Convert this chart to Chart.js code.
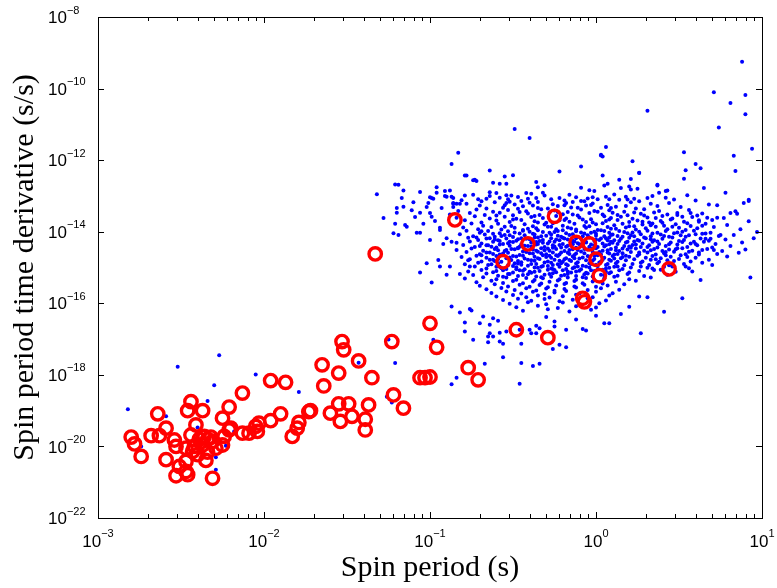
<!DOCTYPE html>
<html lang="en">
<head>
<meta charset="UTF-8">
<title>Spin period vs spin period derivative</title>
<script src="https://cdn.jsdelivr.net/npm/chart.js"></script>
<style>
  html, body { margin: 0; padding: 0; background: #fff; }
  canvas { display: block; }
</style>
</head>
<body>
<canvas id="ppdot" width="777" height="588"></canvas>
<script>
// tick labels, as powers of ten
const xExp = [-3, -2, -1, 0, 1];
const yExp = [-22, -20, -18, -16, -14, -12, -10, -8];

// red circles: [log10 P (s), log10 Pdot (s/s)]
const redLog = [
  [-2.80,-19.74],[-2.78,-19.93],[-2.74,-20.28],[-2.68,-19.70],[-2.63,-19.70],[-2.64,-19.09],
  [-2.59,-19.49],[-2.59,-20.37],[-2.54,-19.82],[-2.53,-20.00],[-2.53,-20.82],[-2.51,-20.56],
  [-2.47,-20.70],[-2.46,-20.79],[-2.47,-20.42],[-2.47,-20.05],[-2.44,-18.75],[-2.46,-19.00],
  [-2.37,-19.00],[-2.41,-19.40],[-2.44,-19.68],[-2.42,-20.00],[-2.43,-20.14],[-2.40,-20.23],
  [-2.36,-19.72],[-2.37,-19.96],[-2.35,-20.39],[-2.31,-20.89],[-2.31,-19.86],[-2.29,-20.05],
  [-2.25,-19.96],[-2.24,-19.72],[-2.21,-19.54],[-2.21,-18.90],[-2.25,-19.21],[-2.13,-19.63],
  [-2.09,-19.63],[-2.05,-19.44],[-2.04,-19.58],[-2.13,-18.51],[-2.03,-19.35],[-1.96,-18.16],
  [-1.87,-18.21],[-1.96,-19.28],[-1.90,-19.09],[-1.79,-19.33],[-1.80,-19.49],[-1.83,-19.72],
  [-1.72,-19.00],[-1.73,-19.03],[-1.65,-17.72],[-1.64,-18.31],[-1.55,-17.95],[-1.53,-17.07],
  [-1.52,-17.30],[-1.43,-17.61],[-1.35,-18.08],[-1.23,-17.07],[-1.22,-18.56],[-1.16,-18.93],
  [-1.37,-18.84],[-1.55,-18.81],[-1.49,-18.81],[-1.60,-19.07],[-1.54,-19.30],[-1.47,-19.16],
  [-1.39,-19.24],[-1.39,-19.54],[-1.06,-18.08],[-1.03,-18.08],[-1.00,-18.06],[-1.00,-16.56],
  [-0.96,-17.23],[-0.77,-17.80],[-0.71,-18.14],[-0.48,-16.74],[-0.29,-16.96],[-0.85,-13.67],
  [-0.25,-13.57],[-0.41,-14.34],[-0.56,-14.84],[-0.12,-14.30],[-0.04,-14.34],[0.00,-14.77],
  [0.02,-15.23],[0.44,-15.04],[-0.08,-15.86],[-0.07,-15.96],[-1.33,-14.62],[-2.20,-19.49],
  [-2.34,-19.80],[-2.39,-19.80],[-2.32,-19.74],[-2.34,-20.16]
];

// blue dots in the millisecond corner
const blueMspLog = [
  [-2.82,-18.96],[-2.52,-17.77],[-2.27,-17.45],[-2.30,-18.29],[-2.34,-18.73],[-2.59,-19.16],
  [-2.40,-19.47],[-2.74,-20.00],[-2.29,-19.77],[-2.23,-19.98],[-2.29,-20.30],[-2.29,-20.65],
  [-2.05,-17.99],[-1.79,-18.48],[-1.43,-17.66],[-1.21,-17.67],[-1.25,-17.01],[-1.26,-18.61],
  [-1.23,-18.77],[-2.18,-19.58]
];

// blue dots above the main cloud (high Pdot)
const blueHighLog = [
  [0.88,-9.25],[0.71,-10.10],[0.90,-10.18],[0.81,-10.40],[0.90,-10.72],[0.31,-10.62],[0.74,-11.09],
  [0.94,-11.68],[0.06,-11.63],[0.53,-11.78],[0.03,-11.87],[0.04,-11.90],[0.22,-12.03],[0.83,-11.88],
  [0.60,-12.11],[0.63,-12.23],[0.54,-12.28],[0.84,-12.30],[0.26,-12.36],[0.04,-12.43],[0.14,-12.55],
  [0.21,-12.53],[0.53,-12.52],[0.05,-12.71],[0.07,-12.66],[0.20,-12.74],[0.15,-12.78],[0.25,-12.80],
  [0.21,-12.82],[0.37,-12.71],[0.38,-12.91],[0.42,-12.86],[0.65,-12.78],[0.78,-12.91],[0.06,-13.02],
  [0.08,-13.09],[0.31,-13.06],[0.34,-13.00],[0.23,-13.08],[0.92,-13.11],[-0.49,-11.13],[-0.40,-11.38],
  [-0.83,-11.79],[-0.87,-12.11],[0.03,-11.85],[-0.09,-12.18],[-0.22,-12.32],[-0.64,-12.29],[-0.79,-12.43],
  [-0.50,-12.42],[-0.55,-12.46],[-0.74,-12.56],[-0.72,-12.58],[-0.62,-12.63],[-0.58,-12.66],[-0.54,-12.66],
  [-0.36,-12.61],[-0.31,-12.70],[-0.35,-12.76],[-0.96,-12.76],[-0.96,-12.91],[-0.91,-12.86],[-0.88,-12.85],
  [-0.09,-12.77],[-0.04,-12.84],[-0.01,-12.86],[-1.00,-13.04],[-0.98,-13.08],[-0.91,-13.00],[-0.86,-13.06],
  [-0.79,-12.99],[-0.64,-12.90],[-0.60,-12.92],[-0.64,-13.00],[-0.54,-12.98],[-0.51,-12.99],[-0.42,-12.92],
  [-0.39,-12.94],[-0.32,-12.91],[-0.36,-13.06],[-0.53,-13.09],[-0.54,-13.20],[-0.71,-13.09],[-0.16,-12.97],
  [-0.18,-13.20],[-0.07,-13.15],[-0.02,-13.04],[-0.86,-13.22],[-0.84,-13.22],[-0.82,-13.22],[-0.78,-12.43],
  [-0.73,-12.55],[0.89,-13.20],[0.92,-13.14],[0.81,-13.48],[0.85,-13.50],[0.37,-12.69],[0.26,-12.35]
];

// blue dots on the short-period side of the cloud
const blueLeftLog = [
  [-1.21,-12.68],[-1.19,-12.69],[-1.16,-12.85],[-1.06,-12.89],[-1.17,-13.06],[-1.20,-13.34],[-1.16,-13.30],
  [-1.20,-13.47],[-1.10,-13.18],[-1.11,-13.40],[-1.06,-13.47],[-1.09,-13.59],[-1.02,-13.31],[-1.01,-13.20],
  [-0.99,-13.06],[-1.21,-13.78],[-1.15,-13.81],[-1.14,-13.86],[-1.04,-13.78],[-1.08,-14.03],[-1.06,-14.03],
  [-1.22,-14.04],[-1.19,-14.09],[-1.00,-13.48],[-0.99,-13.58],[-0.97,-13.70],[-0.93,-13.34],[-0.94,-13.89],
  [-0.94,-13.95],[-0.90,-13.02],[-0.87,-13.02],[-0.86,-13.20],[-1.00,-14.23],[-0.92,-14.34],[-0.90,-14.18],
  [-0.87,-14.28],[-1.06,-15.14],[-0.99,-15.42],[-1.02,-14.88],[-0.95,-14.79],[-0.94,-14.97],[-0.88,-14.97],
  [-0.90,-15.20],[-0.82,-15.18],[-0.84,-14.51],[-0.81,-14.71],[-0.77,-14.80],[-0.76,-14.97],[-1.28,-13.62],
  [-1.32,-12.95]
];

// blue dots below the cloud and on its long-period side
const blueTailLog = [
  [-0.87,-16.09],[-0.82,-16.26],[-0.76,-16.16],[-0.79,-16.54],[-0.79,-16.79],[-0.74,-17.02],[-0.67,-17.69],
  [-0.56,-17.51],[-0.46,-18.25],[-0.45,-17.67],[-0.38,-17.75],[-0.34,-17.69],[-0.65,-16.93],[-0.62,-16.93],
  [-0.58,-17.07],[-0.56,-17.13],[-0.65,-17.09],[-0.45,-17.13],[-0.39,-16.84],[-0.36,-16.84],[-0.26,-17.28],
  [-0.22,-17.16],[-0.18,-17.23],[-0.08,-16.72],[-0.06,-16.76],[0.27,-16.84],[0.08,-16.56],[0.05,-16.56],
  [0.41,-16.24],[0.31,-15.83],[0.26,-15.81],[-0.87,-18.26],[-0.84,-18.08],[-0.64,-16.60],[-0.62,-16.42],
  [-0.59,-16.49],[-0.68,-16.37],[-0.75,-16.20],[-0.70,-16.56],[-0.64,-16.84],[-0.58,-16.82],[-0.54,-16.79],
  [-0.46,-16.74],[-0.40,-16.74],[-0.36,-16.63],[-0.34,-16.70],[-0.25,-16.65],[-0.18,-16.74],[-0.25,-16.51],
  [-0.98,-17.02],[-0.30,-16.38],[-0.12,-16.45],[0.00,-16.35],[0.15,-16.30],[0.20,-16.10],
  [0.93,-15.28],[0.63,-15.35],[0.52,-15.86],[0.71,-14.51],[0.75,-14.09],[0.66,-14.20],[0.69,-14.20],
  [0.64,-14.06],[0.54,-14.97],[0.73,-13.61],[0.67,-13.61],[0.70,-13.67],[0.62,-13.72],[0.59,-14.28],
  [0.49,-14.46],[0.54,-14.14],[0.57,-13.48],[0.49,-13.48],[0.43,-12.85]
];

// blue dots of the dense core
const blueCoreLog = [
  [-0.74,-12.97],[-0.47,-13.03],[-0.31,-12.99],[-0.12,-13.04],[0.11,-12.96],[0.18,-13.02],[0.42,-13.05],[0.55,-12.98],
  [-0.81,-13.12],[-0.66,-13.08],[-0.45,-13.14],[-0.27,-13.09],[-0.19,-13.13],[-0.05,-13.07],[0.14,-13.11],[0.26,-13.15],[0.47,-13.10],[0.60,-13.13],
  [-0.78,-13.22],[-0.61,-13.18],[-0.49,-13.24],[-0.40,-13.19],[-0.26,-13.23],[-0.14,-13.17],[-0.02,-13.21],[0.07,-13.25],[0.21,-13.18],[0.33,-13.22],[0.44,-13.20],[0.68,-13.24],
  [-0.86,-13.31],[-0.70,-13.27],[-0.56,-13.33],[-0.44,-13.29],[-0.35,-13.34],[-0.23,-13.28],[-0.15,-13.32],[-0.06,-13.27],[0.03,-13.33],[0.12,-13.30],[0.24,-13.35],[0.37,-13.28],[0.51,-13.31],[0.73,-13.26],
  [-0.83,-13.42],[-0.72,-13.38],[-0.62,-13.44],[-0.53,-13.39],[-0.42,-13.43],[-0.33,-13.37],[-0.25,-13.41],[-0.17,-13.45],[-0.09,-13.38],[-0.01,-13.42],[0.08,-13.40],[0.17,-13.44],[0.29,-13.37],[0.38,-13.42],[0.56,-13.39],[0.84,-13.43],
  [-0.88,-13.52],[-0.76,-13.48],[-0.67,-13.53],[-0.58,-13.47],[-0.50,-13.54],[-0.41,-13.49],[-0.34,-13.53],[-0.28,-13.46],[-0.20,-13.51],[-0.11,-13.55],[-0.04,-13.48],[0.04,-13.52],[0.10,-13.47],[0.19,-13.54],[0.27,-13.50],[0.35,-13.46],[0.49,-13.53],[0.64,-13.49],
  [-0.84,-13.61],[-0.73,-13.57],[-0.64,-13.63],[-0.55,-13.58],[-0.48,-13.64],[-0.39,-13.59],[-0.32,-13.62],[-0.24,-13.56],[-0.18,-13.63],[-0.10,-13.60],[-0.03,-13.65],[0.05,-13.57],[0.09,-13.62],[0.15,-13.58],[0.22,-13.64],[0.31,-13.60],[0.40,-13.56],[0.46,-13.63],[0.58,-13.59],[0.77,-13.62],
  [-0.79,-13.68],[-0.69,-13.74],[-0.60,-13.69],[-0.52,-13.73],[-0.45,-13.67],[-0.37,-13.71],[-0.30,-13.75],[-0.22,-13.68],[-0.16,-13.72],[-0.08,-13.66],[-0.02,-13.74],[0.06,-13.70],[0.13,-13.67],[0.20,-13.73],[0.25,-13.69],[0.32,-13.74],[0.39,-13.70],[0.45,-13.66],[0.53,-13.72],[0.62,-13.68],[0.92,-13.71],
  [-0.75,-13.77],[-0.68,-13.83],[-0.59,-13.78],[-0.51,-13.84],[-0.43,-13.79],[-0.38,-13.85],[-0.31,-13.80],[-0.26,-13.76],[-0.20,-13.83],[-0.13,-13.78],[-0.07,-13.84],[0.00,-13.79],[0.04,-13.76],[0.11,-13.82],[0.16,-13.78],[0.23,-13.85],[0.28,-13.80],[0.34,-13.77],[0.41,-13.83],[0.48,-13.79],[0.57,-13.84],[0.66,-13.78],[0.79,-13.81],
  [-0.80,-13.88],[-0.71,-13.93],[-0.63,-13.87],[-0.57,-13.94],[-0.49,-13.89],[-0.44,-13.95],[-0.36,-13.90],[-0.29,-13.86],[-0.24,-13.93],[-0.17,-13.88],[-0.12,-13.94],[-0.06,-13.89],[0.01,-13.95],[0.07,-13.87],[0.12,-13.92],[0.18,-13.88],[0.24,-13.94],[0.30,-13.90],[0.36,-13.86],[0.43,-13.93],[0.50,-13.89],[0.54,-13.95],[0.61,-13.90],[0.71,-13.87],[0.87,-13.93],
  [-0.78,-13.97],[-0.70,-14.03],[-0.65,-13.98],[-0.58,-14.04],[-0.53,-13.99],[-0.46,-14.05],[-0.40,-14.00],[-0.35,-13.96],[-0.28,-14.03],[-0.23,-13.98],[-0.18,-14.04],[-0.12,-13.99],[-0.07,-14.05],[-0.01,-14.00],[0.03,-13.96],[0.08,-14.03],[0.14,-13.98],[0.19,-14.04],[0.26,-14.00],[0.31,-13.97],[0.37,-14.03],[0.42,-13.98],[0.47,-14.04],[0.52,-14.00],[0.59,-13.97],[0.69,-14.03],[0.97,-14.01],
  [-0.82,-14.07],[-0.74,-14.13],[-0.67,-14.08],[-0.61,-14.14],[-0.55,-14.09],[-0.50,-14.15],[-0.43,-14.10],[-0.38,-14.06],[-0.33,-14.13],[-0.27,-14.08],[-0.21,-14.14],[-0.16,-14.09],[-0.11,-14.15],[-0.05,-14.10],[0.00,-14.06],[0.05,-14.13],[0.10,-14.08],[0.16,-14.14],[0.21,-14.10],[0.27,-14.07],[0.33,-14.13],[0.39,-14.08],[0.44,-14.14],[0.51,-14.10],[0.60,-14.07],[0.74,-14.12],[0.83,-14.09],
  [-0.77,-14.17],[-0.71,-14.23],[-0.64,-14.18],[-0.59,-14.24],[-0.54,-14.19],[-0.48,-14.25],[-0.42,-14.20],[-0.37,-14.16],[-0.32,-14.23],[-0.27,-14.18],[-0.22,-14.24],[-0.19,-14.19],[-0.14,-14.25],[-0.09,-14.20],[-0.04,-14.16],[0.02,-14.23],[0.06,-14.18],[0.11,-14.24],[0.15,-14.20],[0.20,-14.17],[0.25,-14.23],[0.30,-14.18],[0.35,-14.24],[0.40,-14.20],[0.46,-14.16],[0.53,-14.23],[0.63,-14.19],[0.78,-14.22],[0.95,-14.18],
  [-0.84,-14.31],[-0.76,-14.27],[-0.69,-14.33],[-0.62,-14.28],[-0.56,-14.34],[-0.50,-14.29],[-0.45,-14.35],[-0.39,-14.30],[-0.34,-14.26],[-0.29,-14.33],[-0.25,-14.28],[-0.20,-14.34],[-0.15,-14.29],[-0.10,-14.35],[-0.06,-14.30],[-0.01,-14.26],[0.04,-14.33],[0.09,-14.28],[0.13,-14.34],[0.18,-14.30],[0.23,-14.27],[0.28,-14.33],[0.34,-14.28],[0.38,-14.34],[0.45,-14.30],[0.50,-14.26],[0.57,-14.33],[0.65,-14.28],[0.72,-14.34],[0.88,-14.30],
  [-0.80,-14.37],[-0.73,-14.43],[-0.66,-14.38],[-0.60,-14.44],[-0.52,-14.39],[-0.47,-14.45],[-0.41,-14.40],[-0.36,-14.36],[-0.31,-14.43],[-0.26,-14.38],[-0.21,-14.44],[-0.17,-14.39],[-0.12,-14.45],[-0.08,-14.40],[-0.03,-14.36],[0.01,-14.43],[0.06,-14.38],[0.12,-14.44],[0.17,-14.40],[0.22,-14.37],[0.27,-14.43],[0.32,-14.38],[0.37,-14.44],[0.42,-14.40],[0.49,-14.36],[0.55,-14.43],[0.61,-14.38],[0.70,-14.44],[0.81,-14.40],
  [-0.75,-14.47],[-0.68,-14.53],[-0.61,-14.48],[-0.55,-14.54],[-0.49,-14.49],[-0.44,-14.55],[-0.38,-14.50],[-0.33,-14.46],[-0.28,-14.53],[-0.24,-14.48],[-0.19,-14.54],[-0.14,-14.49],[-0.09,-14.55],[-0.05,-14.50],[0.00,-14.46],[0.04,-14.53],[0.09,-14.48],[0.14,-14.54],[0.19,-14.50],[0.24,-14.47],[0.29,-14.53],[0.35,-14.48],[0.40,-14.54],[0.44,-14.50],[0.52,-14.46],[0.58,-14.53],[0.67,-14.48],[0.76,-14.54],[0.90,-14.50],
  [-0.78,-14.57],[-0.70,-14.63],[-0.64,-14.58],[-0.58,-14.64],[-0.53,-14.59],[-0.46,-14.65],[-0.40,-14.60],[-0.35,-14.56],[-0.30,-14.63],[-0.26,-14.58],[-0.22,-14.64],[-0.17,-14.59],[-0.13,-14.65],[-0.07,-14.60],[-0.02,-14.56],[0.03,-14.63],[0.07,-14.58],[0.11,-14.64],[0.16,-14.60],[0.21,-14.57],[0.26,-14.63],[0.31,-14.58],[0.36,-14.64],[0.41,-14.60],[0.47,-14.56],[0.54,-14.63],[0.62,-14.58],[0.73,-14.62],[0.86,-14.59],
  [-0.72,-14.67],[-0.66,-14.73],[-0.60,-14.68],[-0.54,-14.74],[-0.48,-14.69],[-0.43,-14.75],[-0.37,-14.70],[-0.32,-14.66],[-0.27,-14.73],[-0.23,-14.68],[-0.18,-14.74],[-0.14,-14.69],[-0.10,-14.75],[-0.04,-14.70],[0.01,-14.66],[0.05,-14.73],[0.10,-14.68],[0.15,-14.74],[0.20,-14.70],[0.25,-14.67],[0.30,-14.73],[0.34,-14.68],[0.39,-14.74],[0.45,-14.70],[0.51,-14.66],[0.60,-14.73],[0.79,-14.69],
  [-0.76,-14.77],[-0.69,-14.83],[-0.62,-14.78],[-0.57,-14.84],[-0.51,-14.79],[-0.45,-14.85],[-0.39,-14.80],[-0.34,-14.76],[-0.29,-14.83],[-0.25,-14.78],[-0.20,-14.84],[-0.16,-14.79],[-0.11,-14.85],[-0.06,-14.80],[-0.01,-14.76],[0.03,-14.83],[0.08,-14.78],[0.13,-14.84],[0.18,-14.80],[0.23,-14.77],[0.28,-14.83],[0.33,-14.78],[0.38,-14.84],[0.43,-14.80],[0.50,-14.76],[0.57,-14.83],[0.68,-14.78],
  [-0.79,-14.91],[-0.71,-14.87],[-0.65,-14.93],[-0.59,-14.88],[-0.53,-14.94],[-0.47,-14.89],[-0.41,-14.95],[-0.36,-14.90],[-0.31,-14.86],[-0.26,-14.93],[-0.21,-14.88],[-0.17,-14.94],[-0.12,-14.89],[-0.08,-14.95],[-0.03,-14.90],[0.02,-14.86],[0.06,-14.93],[0.12,-14.88],[0.17,-14.94],[0.22,-14.90],[0.27,-14.87],[0.32,-14.93],[0.37,-14.88],[0.44,-14.94],[0.53,-14.90],[0.64,-14.87],
  [-0.73,-14.97],[-0.66,-15.03],[-0.60,-14.98],[-0.54,-15.04],[-0.48,-14.99],[-0.43,-15.05],[-0.37,-15.00],[-0.32,-14.96],[-0.27,-15.03],[-0.22,-14.98],[-0.18,-15.04],[-0.13,-14.99],[-0.09,-15.05],[-0.04,-15.00],[0.01,-14.96],[0.06,-15.03],[0.11,-14.98],[0.16,-15.04],[0.21,-15.00],[0.27,-14.97],[0.34,-15.03],[0.41,-14.98],[0.56,-15.02],
  [-0.77,-15.11],[-0.69,-15.07],[-0.62,-15.13],[-0.56,-15.08],[-0.50,-15.14],[-0.44,-15.09],[-0.39,-15.15],[-0.34,-15.10],[-0.29,-15.06],[-0.24,-15.13],[-0.20,-15.08],[-0.15,-15.14],[-0.10,-15.09],[-0.06,-15.15],[-0.01,-15.10],[0.04,-15.06],[0.09,-15.13],[0.14,-15.08],[0.20,-15.14],[0.26,-15.10],[0.35,-15.07],[0.48,-15.12],
  [-0.74,-15.21],[-0.66,-15.17],[-0.59,-15.23],[-0.53,-15.18],[-0.47,-15.24],[-0.41,-15.19],[-0.36,-15.25],[-0.31,-15.20],[-0.26,-15.16],[-0.21,-15.23],[-0.17,-15.18],[-0.12,-15.24],[-0.07,-15.19],[-0.02,-15.25],[0.03,-15.20],[0.08,-15.16],[0.13,-15.23],[0.19,-15.18],[0.29,-15.24],[0.43,-15.20],
  [-0.79,-15.31],[-0.68,-15.27],[-0.60,-15.33],[-0.54,-15.28],[-0.48,-15.34],[-0.42,-15.29],[-0.37,-15.35],[-0.32,-15.30],[-0.27,-15.26],[-0.22,-15.33],[-0.17,-15.28],[-0.12,-15.34],[-0.06,-15.29],[-0.01,-15.35],[0.05,-15.30],[0.11,-15.26],[0.20,-15.33],[0.33,-15.28],
  [-0.72,-15.41],[-0.63,-15.37],[-0.56,-15.43],[-0.50,-15.38],[-0.44,-15.44],[-0.38,-15.39],[-0.33,-15.45],[-0.28,-15.40],[-0.23,-15.36],[-0.18,-15.43],[-0.13,-15.38],[-0.08,-15.44],[-0.02,-15.39],[0.04,-15.45],[0.12,-15.40],[0.24,-15.37],
  [-0.70,-15.51],[-0.61,-15.47],[-0.53,-15.53],[-0.46,-15.48],[-0.40,-15.54],[-0.34,-15.49],[-0.29,-15.55],[-0.24,-15.50],[-0.19,-15.46],[-0.13,-15.53],[-0.07,-15.48],[0.00,-15.54],[0.07,-15.50],[0.17,-15.47],
  [-0.66,-15.61],[-0.57,-15.57],[-0.49,-15.63],[-0.42,-15.58],[-0.36,-15.64],[-0.30,-15.59],[-0.25,-15.65],[-0.19,-15.60],[-0.12,-15.56],[-0.05,-15.63],[0.03,-15.58],[0.14,-15.62],
  [-0.63,-15.71],[-0.54,-15.67],[-0.45,-15.73],[-0.38,-15.68],[-0.31,-15.74],[-0.25,-15.70],[-0.18,-15.66],[-0.10,-15.73],[0.00,-15.68],[0.10,-15.72],
  [-0.60,-15.81],[-0.50,-15.77],[-0.42,-15.83],[-0.35,-15.78],[-0.28,-15.84],[-0.20,-15.80],[-0.12,-15.76],[-0.02,-15.83],[0.08,-15.78],
  [-0.56,-15.91],[-0.47,-15.87],[-0.39,-15.93],[-0.31,-15.88],[-0.22,-15.94],[-0.14,-15.90],[-0.05,-15.86],[0.06,-15.92],
  [-0.52,-16.01],[-0.41,-15.97],[-0.30,-16.03],[-0.20,-15.98],[-0.09,-16.04],[0.02,-16.00],
  [-0.48,-16.11],[-0.35,-16.07],[-0.23,-16.13],[-0.12,-16.08],[0.00,-16.12],
  [-0.44,-16.21],[-0.29,-16.17],[-0.16,-16.23],[-0.03,-16.18]
];

// extra dots filling the centre of the core
const blueCentreLog = [
  [-0.50,-13.66],[-0.35,-13.74],[-0.19,-13.67],[-0.06,-13.73],[0.08,-13.66],[0.28,-13.72],
  [-0.55,-13.86],[-0.41,-13.92],[-0.27,-13.86],[-0.15,-13.91],[-0.04,-13.85],[0.09,-13.92],[0.20,-13.85],
  [-0.62,-14.06],[-0.49,-14.02],[-0.37,-14.08],[-0.25,-14.01],[-0.14,-14.07],[-0.03,-14.03],[0.09,-14.09],[0.22,-14.02],
  [-0.66,-14.19],[-0.57,-14.12],[-0.45,-14.18],[-0.30,-14.11],[-0.20,-14.17],[-0.08,-14.13],[0.03,-14.19],[0.13,-14.12],[0.29,-14.16],
  [-0.61,-14.22],[-0.52,-14.28],[-0.40,-14.21],[-0.28,-14.27],[-0.17,-14.22],[-0.06,-14.29],[0.07,-14.24],[0.19,-14.28],[0.33,-14.21],
  [-0.65,-14.38],[-0.53,-14.32],[-0.43,-14.39],[-0.32,-14.31],[-0.22,-14.37],[-0.11,-14.32],[-0.01,-14.38],[0.10,-14.31],[0.24,-14.36],
  [-0.63,-14.42],[-0.51,-14.48],[-0.39,-14.41],[-0.29,-14.47],[-0.18,-14.42],[-0.07,-14.48],[0.05,-14.41],[0.16,-14.47],[0.31,-14.43],
  [-0.66,-14.58],[-0.54,-14.51],[-0.42,-14.57],[-0.31,-14.52],[-0.21,-14.58],[-0.11,-14.51],[0.02,-14.57],[0.12,-14.52],[0.26,-14.58],
  [-0.62,-14.62],[-0.50,-14.68],[-0.38,-14.61],[-0.28,-14.67],[-0.16,-14.62],[-0.05,-14.68],[0.08,-14.61],[0.18,-14.67],
  [-0.64,-14.78],[-0.52,-14.72],[-0.41,-14.78],[-0.30,-14.71],[-0.19,-14.77],[-0.08,-14.72],[0.04,-14.78],[0.16,-14.71],
  [-0.61,-14.82],[-0.49,-14.88],[-0.37,-14.81],[-0.27,-14.87],[-0.15,-14.82],[-0.04,-14.88],[0.09,-14.81],
  [-0.58,-14.98],[-0.45,-14.92],[-0.33,-14.98],[-0.23,-14.91],[-0.11,-14.97],[0.00,-14.92],[0.13,-14.97],
  [-0.57,-15.02],[-0.46,-15.08],[-0.35,-15.01],[-0.25,-15.07],[-0.14,-15.02],[-0.03,-15.08],[0.08,-15.01],
  [-0.52,-15.18],[-0.40,-15.12],[-0.28,-15.18],[-0.17,-15.11],[-0.05,-15.17],[0.06,-15.12],
  [-0.69,-13.99],[-0.44,-13.97],[-0.32,-14.01],[-0.20,-13.96],[-0.09,-14.02],[0.05,-13.98],[0.17,-14.01],
  [-0.72,-14.16],[-0.52,-14.10],[-0.35,-14.16],[-0.23,-14.11],[-0.12,-14.18],[0.00,-14.11],[0.08,-14.16],[0.23,-14.13],
  [-0.58,-14.26],[-0.47,-14.21],[-0.36,-14.29],[-0.24,-14.22],[-0.13,-14.27],[0.00,-14.22],[0.14,-14.26],[0.26,-14.25],
  [-0.70,-14.40],[-0.58,-14.36],[-0.46,-14.42],[-0.35,-14.34],[-0.25,-14.41],[-0.14,-14.35],[-0.04,-14.42],[0.08,-14.35],[0.20,-14.41],
  [-0.59,-14.52],[-0.47,-14.46],[-0.36,-14.53],[-0.26,-14.45],[-0.16,-14.51],[-0.02,-14.47],[0.07,-14.52],[0.21,-14.45],
  [-0.69,-14.66],[-0.56,-14.61],[-0.44,-14.67],[-0.33,-14.60],[-0.24,-14.66],[-0.12,-14.61],[-0.01,-14.67],[0.13,-14.62],
  [-0.59,-14.76],[-0.47,-14.82],[-0.35,-14.74],[-0.22,-14.81],[-0.13,-14.74],[-0.02,-14.81],[0.11,-14.75],
  [-0.63,-14.91],[-0.50,-14.96],[-0.39,-14.90],[-0.29,-14.96],[-0.18,-14.91],[-0.06,-14.97],[0.07,-14.90],
  [-0.60,-15.10],[-0.48,-15.05],[-0.37,-15.12],[-0.26,-15.04],[-0.12,-15.11],[0.01,-15.05],
  [-0.56,-15.26],[-0.44,-15.21],[-0.33,-15.27],[-0.19,-15.21],[-0.08,-15.27],[0.05,-15.22]
];

// extra dots on the upper edge and the long-period side of the core
const blueRimLog = [
  [-0.69,-13.15],[-0.58,-13.05],[-0.52,-13.16],[-0.41,-13.08],[-0.35,-13.17],[-0.22,-13.06],[-0.09,-13.14],[0.01,-13.09],[0.19,-13.10],
  [-0.66,-13.35],[-0.55,-13.26],[-0.47,-13.36],[-0.38,-13.27],[-0.29,-13.35],[-0.19,-13.26],[-0.11,-13.33],[-0.03,-13.25],[0.09,-13.34],[0.18,-13.28],
  [-0.60,-13.55],[-0.46,-13.45],[-0.37,-13.56],[-0.23,-13.45],[-0.14,-13.52],[0.01,-13.44],[0.13,-13.53],[0.23,-13.46],
  [0.29,-13.55],[0.36,-13.62],[0.43,-13.52],[0.52,-13.58],[0.61,-13.55],[0.33,-13.82],[0.40,-13.75],[0.46,-13.86],
  [0.55,-13.76],[0.64,-13.83],[0.34,-14.05],[0.41,-14.12],[0.49,-14.02],[0.56,-14.10],[0.66,-14.05],[0.37,-14.27],
  [0.44,-14.35],[0.52,-14.29],[0.60,-14.34],[0.68,-14.25],[0.33,-14.52],[0.42,-14.57],[0.48,-14.49],[0.56,-14.56],
  [0.64,-14.51],[0.36,-14.77],[0.42,-14.66],[0.47,-14.82],[0.55,-14.71],[0.62,-14.64],[0.31,-15.01],[0.39,-15.06],
  [0.46,-14.97],[0.58,-15.11],[0.70,-14.93]
];

const toXY = list => list.map(p => ({ x: Math.pow(10, p[0]), y: Math.pow(10, p[1]) }));
const blueAll = [].concat(blueMspLog, blueLeftLog, blueHighLog, blueTailLog, blueCoreLog, blueCentreLog, blueRimLog);

const SANS = '"Liberation Sans", Arial, sans-serif';
const SERIF = '"Liberation Serif", "Times New Roman", serif';

// "10" with a raised exponent
function powLabel(ctx, e, x, y, centered) {
  const es = e < 0 ? '\u2212' + (-e) : String(e);
  ctx.font = '17px ' + SANS;
  const wb = ctx.measureText('10').width;
  ctx.font = '11px ' + SANS;
  const we = ctx.measureText(es).width;
  const left = centered ? x - (wb + we) / 2 : x;
  ctx.textAlign = 'left';
  ctx.textBaseline = 'middle';
  ctx.font = '17px ' + SANS;
  ctx.fillText('10', left, y);
  ctx.font = '11px ' + SANS;
  ctx.fillText(es, left + wb, y - 8);
}

// matlab style box, inward ticks, labels and titles
const axesBox = {
  id: 'axesBox',
  afterDraw(chart) {
    const { ctx, chartArea: a, scales: { x, y } } = chart;
    ctx.save();
    ctx.strokeStyle = '#000';
    ctx.lineWidth = 1;
    ctx.beginPath();
    for (let e = xExp[0]; e < xExp[xExp.length - 1]; e++) {
      for (let k = 1; k < 10; k++) {
        const px = Math.round(x.getPixelForValue(k * Math.pow(10, e))) + 0.5;
        const len = k === 1 ? 6 : 4;
        ctx.moveTo(px, a.bottom); ctx.lineTo(px, a.bottom - len);
        ctx.moveTo(px, a.top); ctx.lineTo(px, a.top + len);
      }
    }
    yExp.forEach(e => {
      const py = Math.round(y.getPixelForValue(Math.pow(10, e))) + 0.5;
      ctx.moveTo(a.left, py); ctx.lineTo(a.left + 6, py);
      ctx.moveTo(a.right, py); ctx.lineTo(a.right - 6, py);
    });
    ctx.stroke();
    ctx.strokeRect(a.left + 0.5, a.top + 0.5, a.right - a.left, a.bottom - a.top);

    ctx.fillStyle = '#000';
    xExp.forEach(e => powLabel(ctx, e, x.getPixelForValue(Math.pow(10, e)), a.bottom + 24, true));
    yExp.forEach(e => powLabel(ctx, e, 48, y.getPixelForValue(Math.pow(10, e)) + 1.5, false));

    ctx.font = '30px ' + SERIF;
    ctx.textAlign = 'center';
    ctx.textBaseline = 'alphabetic';
    ctx.fillText('Spin period (s)', (a.left + a.right) / 2, 576);
    ctx.translate(33, (a.top + a.bottom) / 2);
    ctx.rotate(-Math.PI / 2);
    ctx.fillText('Spin period time derivative (s/s)', 0, 0);
    ctx.restore();
  }
};

new Chart(document.getElementById('ppdot'), {
  type: 'scatter',
  data: {
    datasets: [
      {
        label: 'red',
        data: toXY(redLog),
        pointRadius: 6.2,
        pointBorderWidth: 3.4,
        pointBorderColor: '#ff0000',
        pointBackgroundColor: 'rgba(0,0,0,0)'
      },
      {
        label: 'blue',
        data: toXY(blueAll),
        pointRadius: 2,
        pointBorderWidth: 0,
        pointBackgroundColor: '#0000ff'
      }
    ]
  },
  options: {
    responsive: false,
    animation: false,
    devicePixelRatio: 1,
    events: [],
    layout: { padding: { left: 98, right: 15, top: 17, bottom: 70 } },
    scales: {
      x: { type: 'logarithmic', min: 1e-3, max: 10, display: false },
      y: { type: 'logarithmic', min: 1e-22, max: 1e-8, display: false }
    },
    plugins: { legend: { display: false }, tooltip: { enabled: false } }
  },
  plugins: [axesBox]
});
</script>
</body>
</html>
